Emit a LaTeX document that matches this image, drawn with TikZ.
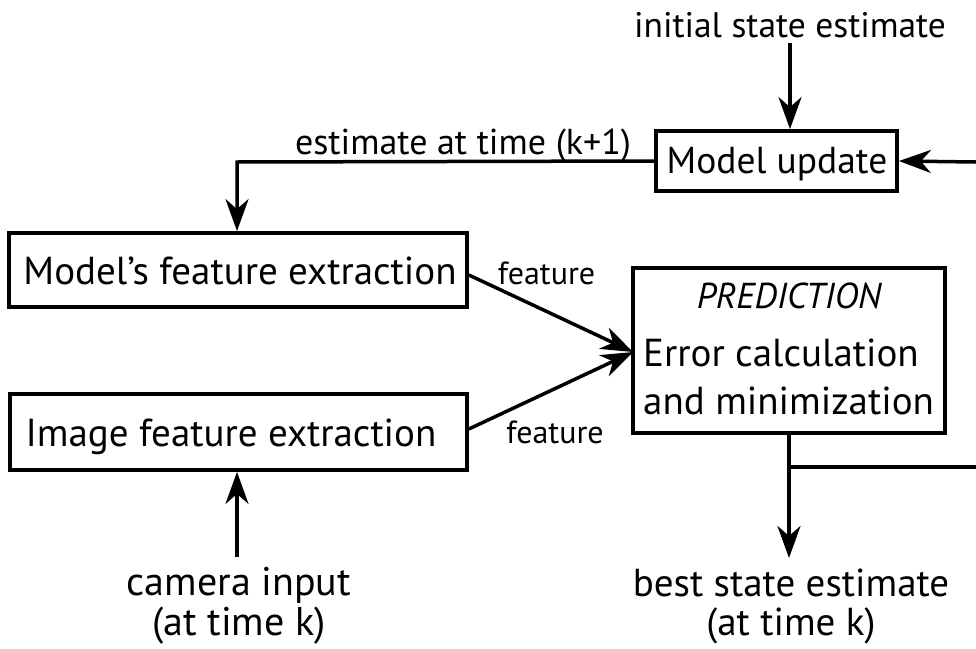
\documentclass[tikz,border=0pt]{standalone}
\usepackage{fontspec}
\setmainfont{PT Sans}
\usetikzlibrary{arrows.meta}
\newcommand{\fsz}[1]{\fontsize{#1}{#1}\selectfont}
\tikzset{
  blk/.style={draw, line width=3.8pt, inner sep=0pt},
  txt/.style={inner sep=0pt, anchor=base},
  conn/.style={line width=3.5pt, -{Stealth[length=32pt,width=23pt,inset=10pt]}},
  plain/.style={line width=3.5pt}
}
\begin{document}
\begin{tikzpicture}[x=1pt,y=-1pt]
  \useasboundingbox (0,0) rectangle (976,648);
  % blocks
  \node[blk, minimum width=241pt, minimum height=60pt] (mu) at (776.5,161) {};
  \node[blk, minimum width=458pt, minimum height=74pt] (mfe) at (238,270) {};
  \node[blk, minimum width=457pt, minimum height=76pt] (ife) at (238.5,432) {};
  \node[blk, minimum width=312pt, minimum height=165pt] (pred) at (789,350.5) {};
  % block texts
  \node[txt, font=\fsz{37.5}] (mut) at (777,173) {Model update};
  \node[txt, font=\fsz{39}] (mfet) at (240,284) {Model’s feature extraction};
  \node[txt, font=\fsz{39}] (ifet) at (231,446) {Image feature extraction};
  \node[txt, font=\fsz{36}\itshape] (predt) at (789,308) {PREDICTION};
  \node[txt, anchor=base west, font=\fsz{39}] (err) at (643,366) {Error calculation};
  \node[txt, anchor=base west, font=\fsz{39}] (minz) at (643,414) {and minimization};
  % free texts
  \node[txt, font=\fsz{35.5}] (init) at (790,37) {initial state estimate};
  \node[txt, font=\fsz{40}] (cam) at (239,595) {camera input};
  \node[txt, font=\fsz{40}] (camk) at (239,635) {(at time k)};
  \node[txt, font=\fsz{39}] (best) at (791,596) {best state estimate};
  \node[txt, font=\fsz{39}] (bestk) at (791,635) {(at time k)};
  \node[txt, font=\fsz{36}] (est) at (463,154) {estimate at time (k+1)};
  \node[txt, font=\fsz{32}] (f1) at (546.5,284) {feature};
  \node[txt, font=\fsz{32}] (f2) at (555,443) {feature};
  % connector ends and bends
  \coordinate (rin) at (976,162);
  \coordinate (rout) at (976,467);
  \coordinate (bend) at (237,162);
  \coordinate (fork) at (789,467);
  \coordinate (tip) at (633,352);
  \coordinate (initout) at (790,43);
  \coordinate (camout) at (237,557);
  \coordinate (bestin) at (789,558);
  % connectors
  \draw[conn] (initout) -- (mu.north -| initout);
  \draw[conn] (rin) -- (mu.east);
  \draw[conn] (mu.west) -- (bend) -- (mfe.north -| bend);
  \draw[conn] (mfe.east |- 0,275) -- (tip);
  \draw[conn] (ife.east |- 0,429) -- (tip);
  \draw[conn] (camout) -- (ife.south -| camout);
  \draw[conn] (pred.south -| fork) -- (bestin);
  \draw[plain] (fork) -- (rout);
\end{tikzpicture}
\end{document}
